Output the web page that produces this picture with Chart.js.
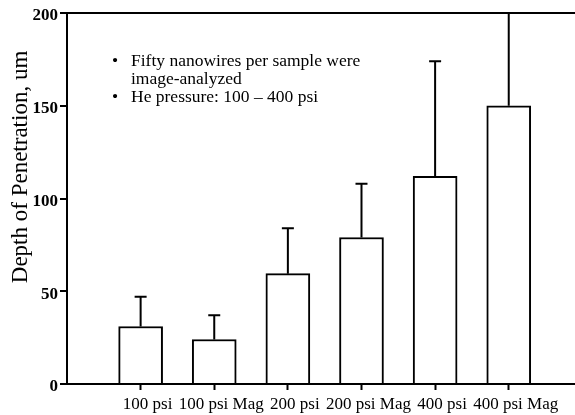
<!DOCTYPE html>
<html>
<head>
<meta charset="utf-8">
<script src="https://cdn.jsdelivr.net/npm/chart.js@4"></script>
<style>
  html, body { margin: 0; padding: 0; background: #fff; }
  #wrap { width: 575px; height: 415px; }
</style>
</head>
<body>
<div id="wrap"><canvas id="grafico"></canvas></div>
<script>
// Dados
const categories = ['100 psi', '100 psi Mag', '200 psi', '200 psi Mag', '400 psi', '400 psi Mag']
const depthMean = [31, 24, 59.5, 79, 112, 150]
const depthUpper = [47, 37, 84, 108, 174, 215]
const yTicks = [0, 50, 100, 150, 200]
const yTitle = 'Depth of Penetration, um'
const notes = [['Fifty nanowires per sample were', 'image-analyzed'], ['He pressure: 100 \u2013 400 psi']]

const serif = 'Liberation Serif'

// barras de erro (só para cima)
const errorBars = {
  id: 'errorBars',
  afterDatasetsDraw(chart) {
    const { ctx, chartArea, scales: { y } } = chart
    const bars = chart.getDatasetMeta(0).data
    ctx.save()
    ctx.beginPath()
    ctx.rect(chartArea.left, chartArea.top - 1, chartArea.width, chartArea.height + 1)
    ctx.clip()
    ctx.strokeStyle = '#000'
    ctx.lineWidth = 2
    bars.forEach((bar, i) => {
      const top = y.getPixelForValue(depthUpper[i])
      ctx.beginPath()
      ctx.moveTo(bar.x, bar.y)
      ctx.lineTo(bar.x, top)
      ctx.moveTo(bar.x - 6, top)
      ctx.lineTo(bar.x + 6, top)
      ctx.stroke()
    })
    ctx.restore()
  }
}

// título do eixo Y, deslocado para cima
const axisTitle = {
  id: 'axisTitle',
  afterDraw(chart) {
    const { ctx, scales: { y } } = chart
    ctx.save()
    ctx.translate(y.left + 21, y.getPixelForValue(117))
    ctx.rotate(-Math.PI / 2)
    ctx.fillStyle = '#000'
    ctx.font = '23px ' + serif
    ctx.textAlign = 'center'
    ctx.textBaseline = 'middle'
    ctx.fillText(yTitle, 0, 0)
    ctx.restore()
  }
}

// texto com marcadores
const noteBox = {
  id: 'noteBox',
  afterDraw(chart) {
    const { ctx, chartArea } = chart
    const x0 = chartArea.left + 48
    let yy = chartArea.top + 53
    ctx.save()
    ctx.fillStyle = '#000'
    ctx.font = '17.5px ' + serif
    ctx.textBaseline = 'alphabetic'
    notes.forEach(lines => {
      ctx.textAlign = 'center'
      ctx.fillText('\u2022', x0, yy)
      ctx.textAlign = 'left'
      lines.forEach(t => {
        ctx.fillText(t, x0 + 16, yy)
        yy += 18
      })
    })
    ctx.restore()
  }
}

const ctx = document.getElementById('grafico')

const chart = new Chart(ctx, {
  type: 'bar',
  data: {
    datasets: [{
      data: depthMean.map((v, i) => ({ x: i, y: v })),
      backgroundColor: '#fff',
      borderColor: '#000',
      borderWidth: 2,
      barThickness: 44
    }]
  },
  options: {
    animation: false,
    responsive: true,
    maintainAspectRatio: false,
    layout: { padding: { top: 13, right: 0, bottom: 0, left: 0 } },
    plugins: { legend: { display: false }, tooltip: { enabled: false } },
    scales: {
      x: {
        type: 'linear',
        offset: false,
        min: -1,
        max: 5.9,
        afterBuildTicks: s => { s.ticks = categories.map((_, i) => ({ value: i })) },
        afterFit: s => { s.height = 31 },
        ticks: {
          callback: v => categories[v],
          font: { family: serif, size: 17 },
          color: '#000',
          labelOffset: 7,
          padding: 4,
          maxRotation: 0,
          autoSkip: false
        },
        grid: { offset: false, drawOnChartArea: false, tickLength: 6, tickWidth: 2, tickColor: '#000' },
        border: { color: '#000', width: 2 }
      },
      y: {
        min: 0,
        max: 200,
        afterBuildTicks: s => { s.ticks = yTicks.map(v => ({ value: v })) },
        afterFit: s => { s.width = 67 },
        ticks: {
          font: { family: serif, size: 17, weight: 'bold' },
          color: '#000',
          labelOffset: 3,
          padding: 2
        },
        grid: {
          color: c => (c.tick && c.tick.value === 200) ? '#000' : 'rgba(0,0,0,0)',
          lineWidth: 2,
          tickColor: '#000',
          tickLength: 7,
          tickWidth: 2
        },
        border: { color: '#000', width: 2 }
      }
    }
  },
  plugins: [errorBars, axisTitle, noteBox]
})
</script>
</body>
</html>
